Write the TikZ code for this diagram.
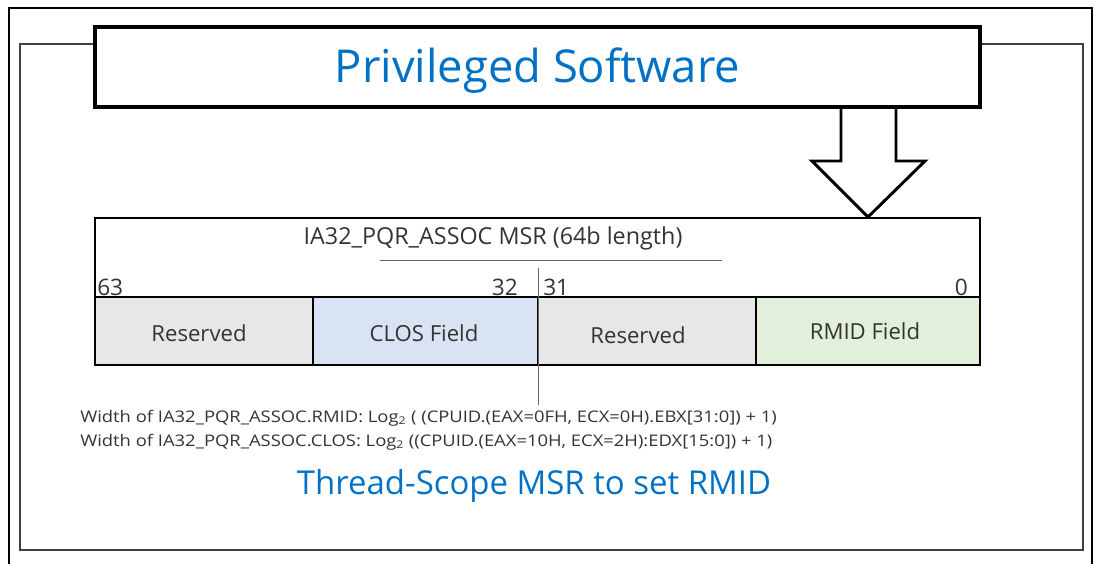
\documentclass[tikz,border=0pt]{standalone}
\usepackage{fontspec}
\setmainfont{Open Sans}
\newfontfamily\notefont[FakeStretch=1.15]{Open Sans}
\definecolor{intelblue}{HTML}{0071C5}
\definecolor{resgray}{HTML}{E7E7E7}
\definecolor{closblue}{HTML}{DAE3F3}
\definecolor{rmidgreen}{HTML}{E2EFDA}
\definecolor{inktext}{HTML}{333333}
\tikzset{
  bitnum/.style={inner sep=0pt,font=\fontsize{17}{20}\selectfont,text=inktext},
  fieldtxt/.style={inner sep=0pt,font=\fontsize{16.6}{20}\selectfont,text=inktext},
  note/.style={inner sep=0pt,font=\notefont\fontsize{12}{14}\selectfont,text=inktext,anchor=base west}
}
\begin{document}
\begin{tikzpicture}[x=0.75pt,y=-0.75pt]
\useasboundingbox(0,0)rectangle(1094,564);
%frames
\draw[line width=2.2pt](9,564)--(9,8)--(1092,8)--(1092,564);
\draw[line width=1.4pt,black!75](20,44)rectangle(1083,550);
%arrow
\draw[line width=2.2pt,fill=white,line join=miter](841,107)--(841,161)--(812,161)--(868,217)--(925,161)--(896,161)--(896,107);
%privileged software box
\node[draw,line width=2.5pt,fill=white,minimum width=663.75pt,minimum height=60pt,inner sep=0pt,
  label={[inner sep=0pt,yshift=-3pt,font=\fontsize{34}{40}\selectfont,text=intelblue]center:Privileged Software}](sw)at(537.5,67){};
%msr register
\node[draw,line width=0.8pt,minimum width=663.75pt,minimum height=110.25pt,inner sep=0pt](msr)at(537.5,291.5){};
\node[fieldtxt,font=\fontsize{17.5}{20}\selectfont](title)at(493,238){IA32\_PQR\_ASSOC MSR (64b length)};
\draw[line width=0.6pt,black!60](380,260)coordinate(ul1)--(722,260)coordinate(ul2);
\foreach \i/\a/\b/\c/\x/\y/\l in {1/95/313/resgray/199/333/Reserved,2/313/538/closblue/424/333/CLOS Field,3/538/756/resgray/638/335/Reserved,4/756/980/rmidgreen/865/331/RMID Field}{
  \draw[line width=0.8pt,fill=\c](\a,297)rectangle(\b,365);
  \node[fieldtxt](f\i)at(\x,\y){\l};
}
%bit numbers
\node[bitnum,anchor=base west](b63)at(97,295){63};
\node[bitnum,anchor=base east](b32)at(518,295){32};
\node[bitnum,anchor=base west](b31)at(543,295){31};
\node[bitnum,anchor=base east](b0)at(968,295){0};
\draw[line width=0.6pt,black!60](538,268)coordinate(split)--(538,405)coordinate(splitend);
%notes
\node[note](n1)at(80,422){Width of IA32\_PQR\_ASSOC.RMID: Log\textsubscript{2} ( (CPUID.(EAX=0FH, ECX=0H).EBX[31:0]) + 1)};
\node[note](n2)at(80,446){Width of IA32\_PQR\_ASSOC.CLOS: Log\textsubscript{2} ((CPUID.(EAX=10H, ECX=2H):EDX[15:0]) + 1)};
\node[inner sep=0pt,anchor=base,font=\fontsize{24.7}{30}\selectfont,text=intelblue](cap)at(534,494){Thread-Scope MSR to set RMID};
\end{tikzpicture}
\end{document}
